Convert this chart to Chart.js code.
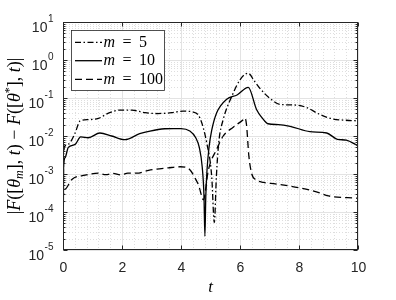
<!DOCTYPE html>
<html>
<head>
<meta charset="utf-8">
<script src="https://cdn.jsdelivr.net/npm/chart.js@4.4.0/dist/chart.umd.min.js"></script>
<style>
  html, body { margin: 0; padding: 0; background: #fff; }
  #wrap { width: 396px; height: 300px; }
</style>
</head>
<body>
<div id="wrap"><canvas id="chart" width="396" height="300"></canvas></div>
<script>
/* DATA */
const tM5 = [0, 0.02, 0.07, 0.24, 0.41, 0.58, 0.86, 1.2, 1.54, 1.93, 2.33, 2.78, 3.2, 3.68, 4.07, 4.4, 4.64, 4.87, 5.04, 5.13, 5.2, 5.28, 5.43, 5.72, 6.0, 6.27, 6.5, 6.7, 7.0, 7.36, 7.92, 8.26, 8.7, 9.16, 9.6, 10];
const fM5 = [1e-6, 3e-3, 5.5e-3, 6.7e-3, 0.012, 0.025, 0.027, 0.029, 0.04, 0.048, 0.048, 0.041, 0.039, 0.041, 0.045, 0.043, 0.03, 6.7e-3, 8.8e-4, 5.3e-5, 8.8e-4, 6.8e-3, 0.027, 0.11, 0.3, 0.45, 0.27, 0.17, 0.1, 0.068, 0.065, 0.056, 0.037, 0.028, 0.026, 0.025];

const tM10 = [0, 0.02, 0.07, 0.18, 0.41, 0.6, 0.86, 1.25, 1.65, 2.1, 2.6, 2.95, 3.45, 3.74, 4.0, 4.3, 4.5, 4.62, 4.72, 4.78, 4.81, 4.84, 4.88, 4.95, 5.04, 5.21, 5.55, 5.9, 6.28, 6.56, 6.75, 6.95, 7.3, 7.7, 8.37, 8.94, 9.3, 9.6, 10];
const fM10 = [1e-6, 1.5e-3, 2.7e-3, 5e-3, 6e-3, 0.0095, 0.009, 0.012, 0.01, 0.008, 0.0115, 0.0135, 0.0155, 0.0157, 0.0157, 0.0135, 0.009, 0.005, 1.5e-3, 2.5e-4, 2.3e-5, 2.5e-4, 1.2e-3, 5e-3, 0.014, 0.041, 0.093, 0.12, 0.19, 0.05, 0.03, 0.021, 0.02, 0.018, 0.013, 0.012, 0.0082, 0.0078, 0.0055];

const tM100 = [0, 0.01, 0.07, 0.3, 0.75, 1.2, 1.45, 1.7, 1.95, 2.2, 2.5, 2.9, 3.57, 3.97, 4.3, 4.47, 4.6, 4.76, 4.93, 5.21, 5.43, 5.77, 6.11, 6.17, 6.22, 6.3, 6.4, 6.55, 6.8, 7.2, 8.03, 8.7, 8.95, 10];
const fM100 = [1e-6, 2.6e-4, 4e-4, 7.2e-4, 9.3e-4, 1.05e-3, 9.6e-4, 1.04e-3, 9.5e-4, 1.05e-3, 1.05e-3, 1.25e-3, 1.45e-3, 1.55e-3, 1.3e-3, 8e-4, 5e-4, 2.1e-4, 1.3e-3, 4.5e-3, 0.01, 0.017, 0.027, 0.03, 0.02, 3e-3, 1e-3, 7e-4, 6e-4, 5.5e-4, 4.3e-4, 3.2e-4, 2.7e-4, 2.3e-4];

const mValues = ["5", "10", "100"];
const xTicks = [0, 2, 4, 6, 8, 10];
const yTickExps = [-5, -4, -3, -2, -1, 0, 1];

const INK = "#262626";
const dashDot = [6, 2.5, 1.5, 2.5];
const dashed = [7, 4];
const lineStyles = [dashDot, [], dashed];

const pts = (ts, fs) => ts.map((t, i) => ({ x: t, y: fs[i] }));

function seg(ctx, x1, y1, x2, y2) {
  ctx.beginPath();
  ctx.moveTo(x1, y1);
  ctx.lineTo(x2, y2);
  ctx.stroke();
}

// draw runs of text; each run: [text, italic, shift, size]
function drawRuns(ctx, runs, x, y, family) {
  let cx = x;
  runs.forEach(r => {
    ctx.font = (r[1] ? "italic " : "") + r[3] + "px " + family;
    ctx.fillText(r[0], cx, y + r[2]);
    cx += ctx.measureText(r[0]).width;
  });
  return cx - x;
}
function runsWidth(ctx, runs, family) {
  let w = 0;
  runs.forEach(r => {
    ctx.font = (r[1] ? "italic " : "") + r[3] + "px " + family;
    w += ctx.measureText(r[0]).width;
  });
  return w;
}

/* GRID + FRAME */
const frame = {
  id: "frame",
  beforeDatasetsDraw(chart) {
    const { ctx, chartArea: a, scales: { x, y } } = chart;
    ctx.save();
    ctx.lineWidth = 1;
    // minor grid
    ctx.strokeStyle = "#dedede";
    ctx.setLineDash([1, 2]);
    for (let i = 1; i < 25; i++) {
      if (i % 5 === 0) continue;
      const px = Math.round(x.getPixelForValue(i * 0.4)) + 0.5;
      seg(ctx, px, a.top, px, a.bottom);
    }
    yTickExps.slice(0, -1).forEach(e => {
      for (let k = 2; k <= 9; k++) {
        const py = Math.round(y.getPixelForValue(k * Math.pow(10, e))) + 0.5;
        seg(ctx, a.left, py, a.right, py);
      }
    });
    // major grid
    ctx.setLineDash([]);
    ctx.strokeStyle = "#e3e3e3";
    xTicks.forEach(v => {
      const px = Math.round(x.getPixelForValue(v)) + 0.5;
      seg(ctx, px, a.top, px, a.bottom);
    });
    yTickExps.forEach(e => {
      const py = Math.round(y.getPixelForValue(Math.pow(10, e))) + 0.5;
      seg(ctx, a.left, py, a.right, py);
    });
    ctx.restore();
  },
  afterDatasetsDraw(chart) {
    const { ctx, chartArea: a, scales: { x, y } } = chart;
    ctx.save();
    ctx.strokeStyle = INK;
    ctx.fillStyle = INK;
    ctx.lineWidth = 1;
    const L = Math.round(a.left) + 0.5, R = Math.round(a.right) - 0.5;
    const T = Math.round(a.top) + 0.5, B = Math.round(a.bottom) - 0.5;
    ctx.strokeRect(L, T, R - L, B - T);

    // x ticks + labels
    ctx.font = "14px 'Liberation Sans', Arial, sans-serif";
    ctx.textAlign = "center";
    ctx.textBaseline = "alphabetic";
    xTicks.forEach(v => {
      const px = Math.round(x.getPixelForValue(v)) + 0.5;
      seg(ctx, px, B, px, B - 4);
      seg(ctx, px, T, px, T + 4);
      ctx.fillText(String(v), px, a.bottom + 22);
    });

    // y ticks + labels
    yTickExps.forEach(e => {
      const py = Math.round(y.getPixelForValue(Math.pow(10, e))) + 0.5;
      seg(ctx, L, py, L + 4, py);
      seg(ctx, R, py, R - 4, py);
      if (e < 1) {
        for (let k = 2; k <= 9; k++) {
          const my = Math.round(y.getPixelForValue(k * Math.pow(10, e))) + 0.5;
          seg(ctx, L, my, L + 2, my);
          seg(ctx, R, my, R - 2, my);
        }
      }
      const exp = e < 0 ? "-" + Math.abs(e) : String(e);
      ctx.textAlign = "left";
      ctx.font = "10px 'Liberation Sans', Arial, sans-serif";
      const ew = ctx.measureText(exp).width;
      const right = a.left - 9.5;
      ctx.fillText(exp, right - ew, py - 0.5);
      ctx.font = "14px 'Liberation Sans', Arial, sans-serif";
      ctx.textAlign = "right";
      ctx.fillText("10", right - ew - 0.5, py + 9.5);
    });

    // axis titles
    const serif = "'Liberation Serif', 'DejaVu Serif', serif";
    ctx.fillStyle = "#000";
    ctx.textAlign = "left";
    ctx.font = "italic 17px " + serif;
    const tw = ctx.measureText("t").width;
    ctx.fillText("t", (a.left + a.right) / 2 - tw / 2, 292);

    const yl = [
      ["|", false, 0, 18], ["F", true, 0, 18], ["([", false, 0, 18], ["θ", true, 0, 18],
      ["m", true, 3, 12], ["], ", false, 0, 18], ["t", true, 0, 18], [") − ", false, 0, 18],
      ["F", true, 0, 18], ["([", false, 0, 18], ["θ", true, 0, 18], ["*", false, -7, 12],
      ["], ", false, 0, 18], ["t", true, 0, 18], [")|", false, 0, 18]
    ];
    const yw = runsWidth(ctx, yl, serif);
    ctx.save();
    ctx.translate(20, (a.top + a.bottom) / 2);
    ctx.rotate(-Math.PI / 2);
    drawRuns(ctx, yl, -yw / 2, 0, serif);
    ctx.restore();

    // legend
    const bx = 71.5, by = 30.5, bw = 93, bh = 60;
    ctx.fillStyle = "#fff";
    ctx.fillRect(bx, by, bw, bh);
    ctx.strokeStyle = INK;
    ctx.lineWidth = 0.8;
    ctx.strokeRect(bx, by, bw, bh);
    const rows = [42.3, 60.7, 79.3];
    mValues.forEach((m, i) => {
      const ry = rows[i];
      ctx.strokeStyle = "#000";
      ctx.lineWidth = 1.3;
      ctx.setLineDash(lineStyles[i]);
      seg(ctx, 75, ry, 102, ry);
      ctx.setLineDash([]);
      ctx.fillStyle = "#000";
      ctx.textBaseline = "middle";
      ctx.font = "italic 16px " + serif;
      ctx.fillText("m", 103.5, ry + 0.5);
      ctx.font = "16px " + serif;
      ctx.fillText("=", 122.5, ry + 0.5);
      ctx.fillText(m, 139, ry + 0.5);
    });
    ctx.restore();
  }
};

const datasets = [[tM5, fM5], [tM10, fM10], [tM100, fM100]].map((d, i) => ({
  label: "m = " + mValues[i],
  data: pts(d[0], d[1]),
  borderColor: "#000",
  borderWidth: 1.3,
  borderDash: lineStyles[i],
  pointRadius: 0,
  fill: false,
  cubicInterpolationMode: "monotone"
}));

new Chart(document.getElementById("chart"), {
  type: "line",
  data: { datasets },
  options: {
    responsive: false,
    animation: false,
    devicePixelRatio: 1,
    layout: { padding: { left: 63, right: 38, top: 22, bottom: 50 } },
    plugins: { legend: { display: false }, tooltip: { enabled: false } },
    scales: {
      x: { type: "linear", min: 0, max: 10, display: false },
      y: { type: "logarithmic", min: 1e-5, max: 10, display: false }
    }
  },
  plugins: [frame]
});
</script>
</body>
</html>
